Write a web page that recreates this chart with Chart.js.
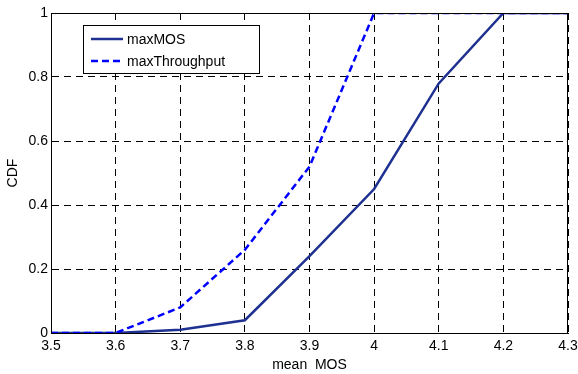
<!DOCTYPE html>
<html>
<head>
<meta charset="utf-8">
<script src="https://cdn.jsdelivr.net/npm/chart.js@4/dist/chart.umd.min.js"></script>
<style>
  html, body { margin: 0; padding: 0; background: #fff; }
  #wrap { width: 578px; height: 374px; }
</style>
</head>
<body>
<div id="wrap"><canvas id="myChart" width="578" height="374"></canvas></div>
<script>
// mean MOS values (x axis)
let meanMOS = [3.5, 3.6, 3.7, 3.8, 3.9, 4.0, 4.1, 4.2, 4.3];
// CDF values
let maxMOS        = [0, 0, 0.01, 0.04, 0.24, 0.45, 0.78, 1, 1];
let maxThroughput = [0, 0, 0.08, 0.26, 0.52, 1, 1, 1, 1];

let seriesNames  = ['maxMOS', 'maxThroughput'];
let seriesColors = ['#1f3190', '#0000ff'];
let seriesDash   = [[], [7, 4]];

const FONT = 'Liberation Sans, Arial, sans-serif';

function points(ys) {
    return meanMOS.map((x, i) => ({ x: x, y: ys[i] }));
}

// box round the plot + legend drawn inside the plot, matlab style
const boxAndLegend = {
    id: 'boxAndLegend',
    afterDatasetsDraw(chart) {
        const ctx = chart.ctx;
        const a = chart.chartArea;
        ctx.save();
        ctx.strokeStyle = '#000';
        ctx.lineWidth = 1;
        ctx.strokeRect(Math.round(a.left) + 0.5, Math.round(a.top) + 0.5,
                       Math.round(a.right - a.left) - 1, Math.round(a.bottom - a.top));

        // legend
        const lx = 83, ly = 25, lw = 176, lh = 48;
        ctx.fillStyle = '#fff';
        ctx.fillRect(lx, ly, lw, lh);
        ctx.strokeRect(lx + 0.5, ly + 0.5, lw, lh);
        ctx.font = '14px ' + FONT;
        ctx.textBaseline = 'middle';
        seriesNames.forEach((name, i) => {
            const y = ly + 14 + i * 22;
            ctx.beginPath();
            ctx.strokeStyle = seriesColors[i];
            ctx.lineWidth = 2.5;
            ctx.setLineDash(seriesDash[i]);
            ctx.moveTo(lx + 8, y);
            ctx.lineTo(lx + 40, y);
            ctx.stroke();
            ctx.setLineDash([]);
            ctx.fillStyle = '#000';
            ctx.fillText(name, lx + 44, y + 1);
        });
        ctx.restore();
    }
};

let myChart = document.getElementById('myChart').getContext('2d');

let cdfChart = new Chart(myChart, {
    type: 'line',
    data: {
        datasets: [
            {
                label: seriesNames[0],
                data: points(maxMOS),
                borderColor: seriesColors[0],
                borderWidth: 2.5,
                borderDash: seriesDash[0],
                pointRadius: 0,
                tension: 0,
                order: 1
            },
            {
                label: seriesNames[1],
                data: points(maxThroughput),
                borderColor: seriesColors[1],
                borderWidth: 2.5,
                borderDash: seriesDash[1],
                pointRadius: 0,
                tension: 0,
                order: 0
            }
        ]
    },
    options: {
        responsive: false,
        animation: false,
        layout: { padding: { top: 13, right: 10, left: 0, bottom: 0 } },
        plugins: {
            legend: { display: false },
            tooltip: { enabled: false }
        },
        scales: {
            x: {
                type: 'linear',
                min: 3.5,
                max: 4.3,
                ticks: {
                    stepSize: 0.1,
                    padding: 5,
                    color: '#000',
                    font: { family: FONT, size: 14 },
                    callback: v => String(Number(v.toFixed(1)))
                },
                grid: { color: '#000', lineWidth: 1, drawTicks: false },
                border: { display: true, color: '#000', dash: [7, 5] },
                title: {
                    display: true,
                    text: 'mean  MOS',
                    color: '#000',
                    font: { family: FONT, size: 14 },
                    padding: { top: 0, bottom: 0 }
                },
                afterFit: s => { s.height = 41; s.paddingLeft = 0; s.paddingRight = 0; }
            },
            y: {
                min: 0,
                max: 1,
                ticks: {
                    stepSize: 0.2,
                    padding: 3,
                    color: '#000',
                    font: { family: FONT, size: 14 },
                    callback: v => String(Number(v.toFixed(1)))
                },
                grid: { color: '#000', lineWidth: 1, drawTicks: false },
                border: { display: true, color: '#000', dash: [7, 5] },
                title: {
                    display: true,
                    text: 'CDF',
                    color: '#000',
                    font: { family: FONT, size: 14 },
                    padding: { top: 5, bottom: 0 }
                },
                afterFit: s => { s.width = 51; s.paddingTop = 0; s.paddingBottom = 0; }
            }
        }
    },
    plugins: [boxAndLegend]
});
</script>
</body>
</html>
